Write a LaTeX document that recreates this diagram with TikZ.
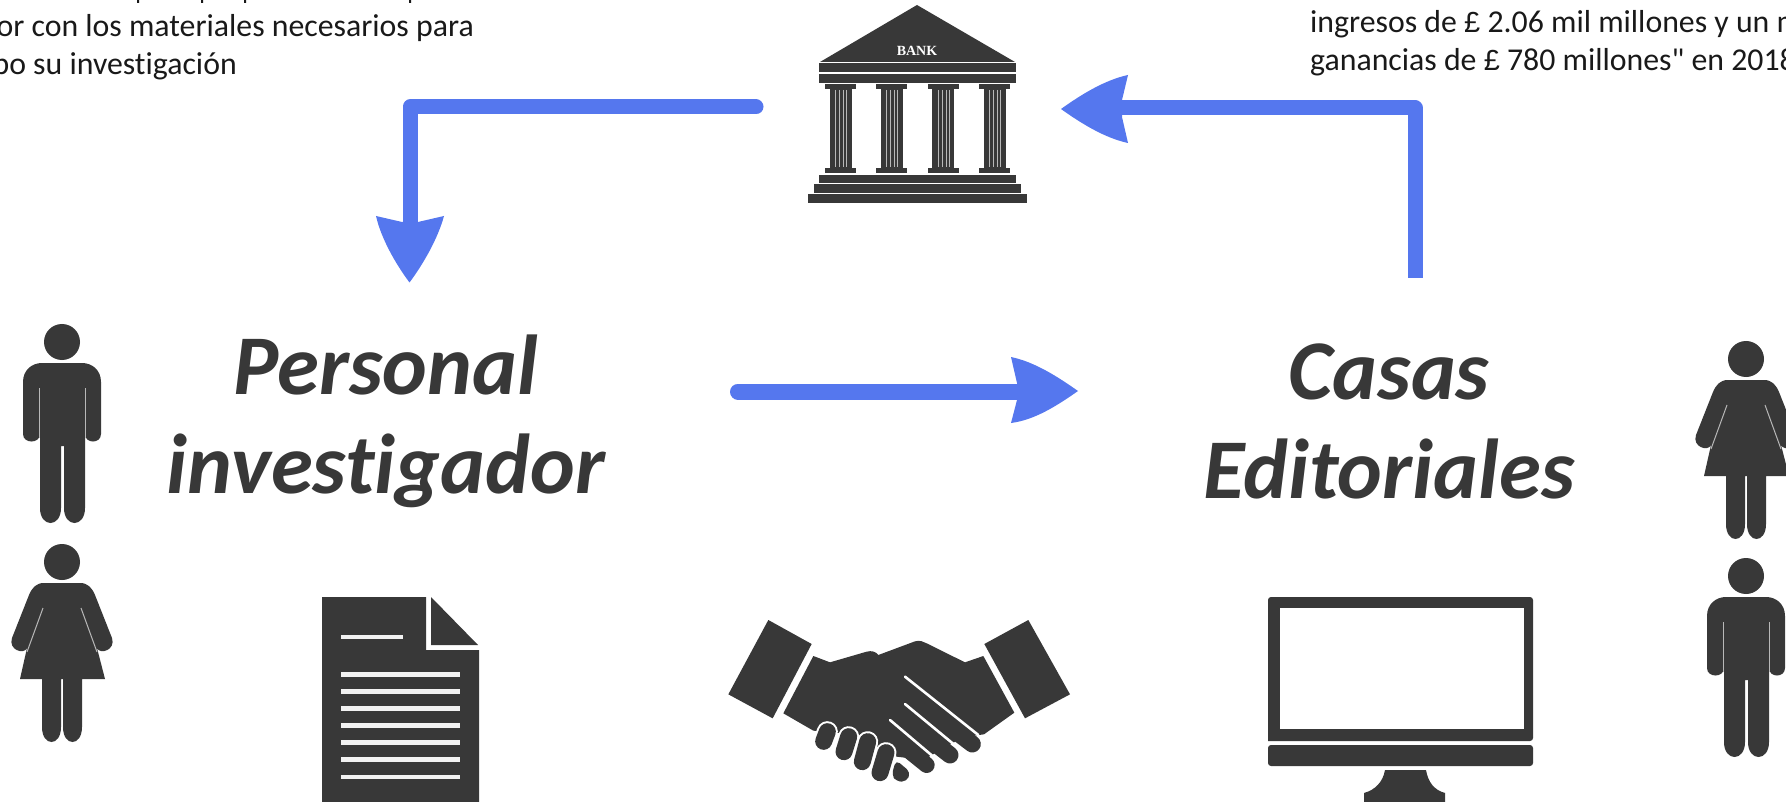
\documentclass[tikz,border=0pt]{standalone}
\usepackage{fontspec}
\setmainfont[Numbers=Lining,Ligatures=NoCommon]{Carlito}
\newfontfamily\notefont[Numbers=Lining,Ligatures=NoCommon]{Carlito}
\newfontfamily\poundfont{Liberation Sans}
\newfontfamily\bankfont{Liberation Serif}
\newcommand{\pnd}{{\poundfont\fontsize{29}{38}\selectfont £}}
\definecolor{flow}{HTML}{5577EE}
\definecolor{ink}{HTML}{383838}
\definecolor{slit}{HTML}{B8B8B8}
\tikzset{
  conn/.style={draw=flow,line width=15pt,line join=round},
  headfill/.style={fill=flow,draw=none},
  note/.style={font=\notefont\fontsize{31.8}{38}\selectfont,text=black!90,inner sep=0pt,anchor=base},
  title/.style={font=\fontsize{85}{99}\selectfont\bfseries\itshape,text=ink,inner sep=0pt,align=center},
  icon/.style={fill=ink,draw=none},
  gap/.style={draw=slit,line width=1pt},
  pics/manfig/.style={code={
    \fill[icon] (0,0) circle[radius=18pt];
    \fill[icon] (-39,40) .. controls (-39,28) and (-30,21) .. (-20,21) -- (20,21)
      .. controls (30,21) and (39,28) .. (39,40) -- (39,92)
      .. controls (39,102) and (23,102) .. (23,92) -- (23,60)
      -- (23,166) .. controls (23,186) and (2,186) .. (2,166) -- (2,104) -- (-1,104) -- (-1,166)
      .. controls (-1,186) and (-22,186) .. (-22,166) -- (-22,92)
      .. controls (-22,102) and (-39,102) .. (-39,92) -- cycle;
    \draw[gap] (-23,46) -- (-23,96);
    \draw[gap] (23,46) -- (23,96);
  }},
  pics/womanfig/.style={code={
    \fill[icon] (0,0) circle[radius=18pt];
    \fill[icon] (-18,21) -- (18,21) .. controls (26,21) and (30,26) .. (33,33) -- (50,76)
      .. controls (54,88) and (38,93) .. (35,86) -- (43,117) -- (20,117) -- (20,165)
      .. controls (20,185) and (1,185) .. (1,165) -- (1,117) -- (-1,117) -- (-1,165)
      .. controls (-1,185) and (-20,185) .. (-20,165) -- (-20,117) -- (-42,117) -- (-35,86)
      .. controls (-38,93) and (-54,88) .. (-50,76) -- (-33,33)
      .. controls (-30,26) and (-26,21) .. (-18,21) -- cycle;
    \draw[gap] (-19,46) -- (-35,90);
    \draw[gap] (19,46) -- (35,90);
  }},
  pics/column/.style={code={
    \fill[icon] (-15.5,84) rectangle (15.5,89);
    \fill[icon] (-11,89) rectangle (11,168);
    \fill[icon] (-15.5,168) rectangle (15.5,173.5);
    \foreach \dx in {-5,-1,3,6}{\draw[slit,line width=.6pt] (\dx,90) -- (\dx,167);}
  }}
}
\begin{document}
\begin{tikzpicture}[x=1pt,y=-1pt]
\useasboundingbox (0,0) rectangle (1786,802);
\clip (0,0) rectangle (1786,802);
\fill[white] (0,0) rectangle (1786,802);

% clipped notes
\fill[black!90] (137,0) rectangle (139,3) (201,0) rectangle (203,3) (244,0) rectangle (246,3) (409,0) rectangle (411,3);
\node[note,anchor=base east] (noteA) at (474,37) {or con los materiales necesarios para};
\node[note,anchor=base east] (noteB) at (237,75) {bo su investigación};
\node[note,anchor=base west] (noteC) at (1310,32.5) {ingresos de \pnd{} 2.06 mil millones y un m};
\node[note,anchor=base west] (noteD) at (1310,70.5) {ganancias de \pnd{} 780 millones" en 2018};

% titles
\node[title] (pers) at (386,421.5) {Personal\\investigador};
\node[title] (cas) at (1389,421.5) {Casas\\Editoriales};

% connectors
\coordinate (a1s) at (756,107);
\coordinate (a1e) at (410,225);
\coordinate (a2s) at (738,391.5);
\coordinate (a2e) at (1020,391.5);
\coordinate (a3s) at (1415,278);
\coordinate (a3e) at (1122,108);
\draw[conn,line cap=round] (a1s) -- (a1s -| a1e) -- (a1e);
\fill[headfill] (376,216) -- (402,222) -- (418,222) -- (444,216)
  .. controls (438,238) and (424,263) .. (409.5,282.5)
  .. controls (395,263) and (381,238) .. (376,216) -- cycle;
\draw[conn,line cap=round,line width=16pt] (a2s) -- (a2e);
\fill[headfill] (1011,357) -- (1017,383) -- (1017,400) -- (1011,423)
  .. controls (1035,420) and (1058,405) .. (1078,391)
  .. controls (1058,377) and (1035,362) .. (1011,357) -- cycle;
\draw[conn] (a3s) -- (a3s |- a3e) -- (a3e);
\fill[headfill] (1128,75) -- (1122,100) -- (1122,117) -- (1128,143)
  .. controls (1105,138) and (1082,124) .. (1061,109)
  .. controls (1082,94) and (1105,80) .. (1128,75) -- cycle;

% bank
\fill[icon] (917,5) -- (1015,62) -- (820,62) -- cycle;
\fill[icon] (818.5,63.5) rectangle (1016,72);
\fill[icon] (818.5,74) rectangle (1016,83);
\node[font=\bankfont\bfseries\fontsize{14}{14}\selectfont,text=white,inner sep=0pt] (banktxt) at (917,50.5) {BANK};
\foreach \cx in {840.5,891.5,943,994.5}{ \pic at (\cx,0) {column}; }
\fill[icon] (818.5,175) rectangle (1016,183);
\fill[icon] (813.5,184.5) rectangle (1021,193);
\fill[icon] (808,194.5) rectangle (1026.5,203);

% people
\pic at (62,342) {manfig};
\pic at (62,562) {womanfig};
\pic at (1746,359) {womanfig};
\pic at (1746,576) {manfig};

% document
\fill[icon] (322,597) -- (426,597) -- (426,650) -- (479,650) -- (479,802) -- (322,802) -- cycle;
\fill[icon] (431,597) -- (478,645) -- (431,645) -- cycle;
\draw[white!95!black,line width=4.5pt] (341,637) -- (403,637);
\foreach \ly in {674.3,691.3,708.7,725.7,742.7,759.7,777}{\draw[white!95!black,line width=4.5pt] (341,\ly) -- (460,\ly);}

% handshake
\begin{scope}[shift={(710,600)},x=.33333pt,y=-.33333pt]
\fill[icon] (175,60) -- (305,132) -- (188,355) -- (55,283) -- cycle;
\fill[icon] (955,60) -- (1080,283) -- (945,355) -- (823,132) -- cycle;
\fill[icon] (310,168) -- (360,187) -- (470,155) .. controls (485,151) and (498,155) .. (505,165)
  -- (615,124) .. controls (630,120) and (640,125) .. (650,130) -- (765,187) -- (820,168)
  -- (913,338) -- (822,403) -- (760,411) -- (700,445) -- (640,480) -- (560,470) -- (500,440) -- (400,400) -- (310,392) -- (220,340) -- cycle;
\draw[ink,line width=17pt,line cap=round] (600,290) -- (787,432);
\draw[ink,line width=17pt,line cap=round] (560,340) -- (720,465);
\draw[ink,line width=16pt,line cap=round] (520,390) -- (650,495);
\draw[white,line width=2.6pt,line cap=round] (585,230) -- (805,405);
\draw[white,line width=2.6pt,line cap=round] (585,312) -- (740,440);
\draw[white,line width=2.6pt,line cap=round] (540,360) -- (670,470);
\foreach \ax/\ay/\bx/\by in {352/395/341/424,416/410/402/455,473/425/457/485,528/458/510/518}{
  \draw[white,line width=21pt,line cap=round] (\ax,\ay) -- (\bx,\by);}
\foreach \ax/\ay/\bx/\by in {352/395/341/424,416/410/402/455,473/425/457/485,528/458/510/518}{
  \draw[ink,line width=17pt,line cap=round] (\ax,\ay) -- (\bx,\by);}
\fill[icon,rounded corners=5pt] (558,480) -- (602,517) -- (590,545) -- (560,545) -- (545,525) -- cycle;
\end{scope}

% monitor
\fill[icon,rounded corners=3pt] (1268,741) -- (1268,597) -- (1533,597) -- (1533,741) [sharp corners] -- cycle;
\fill[white] (1280,607.5) rectangle (1524,729);
\fill[icon,rounded corners=3pt] (1268,745) -- (1268,766) -- (1533,766) -- (1533,745) -- cycle;
\fill[icon] (1385,770) -- (1426,770) .. controls (1428,782) and (1434,790) .. (1445,793) -- (1445,802) -- (1364,802) -- (1364,793) .. controls (1375,790) and (1383,782) .. (1385,770) -- cycle;
\end{tikzpicture}
\end{document}
